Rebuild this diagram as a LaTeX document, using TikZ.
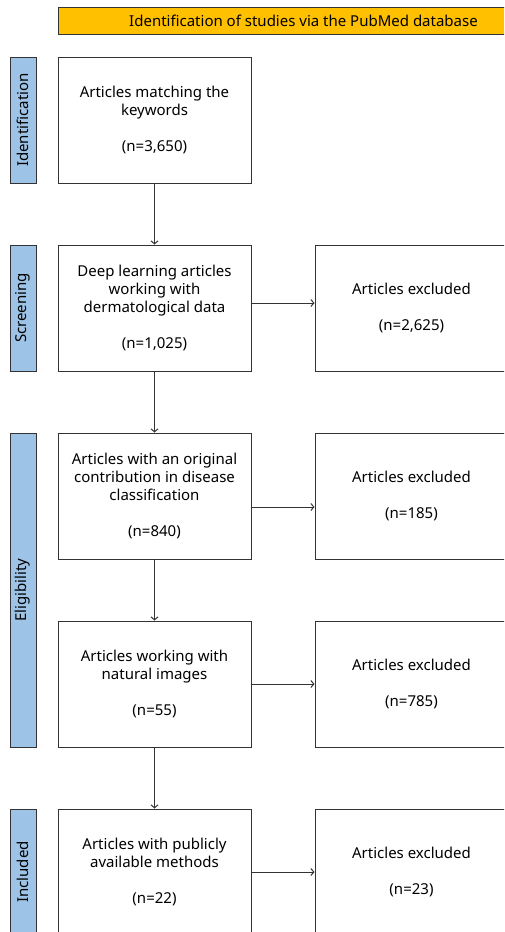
\documentclass[tikz,border=0pt]{standalone}
\usepackage{fontspec}
\setmainfont{Noto Sans}
\usetikzlibrary{arrows.meta}
\definecolor{bannerfill}{HTML}{FFC000}
\definecolor{phasefill}{HTML}{9DC3E6}
\definecolor{edgecol}{HTML}{333333}
\begin{document}
\begin{tikzpicture}[x=1pt,y=-1pt,
  txt/.style={font=\fontsize{15}{18.3}\selectfont},
  box/.style={txt, draw=edgecol, line width=1pt, minimum width=193pt, minimum height=126pt, align=center, inner sep=0pt},
  xbox/.style={box, minimum width=201pt},
  phase/.style={txt, draw=edgecol, line width=1pt, fill=phasefill, rotate=90, minimum height=26pt, inner sep=0pt},
  arr/.style={draw=edgecol, line width=1pt, -{Straight Barb[length=3pt,width=7pt]}}]
\useasboundingbox (0,0) rectangle (504,932);
\clip (0,0) rectangle (504,932);
\node[txt, draw=edgecol, line width=1pt, fill=bannerfill, minimum width=490pt, minimum height=27pt, inner sep=0pt] (banner) at (303.5,20.5) {Identification of studies via the PubMed database};
% phase bars
\node[phase, minimum width=126pt] (pid) at (23,120) {Identification};
\node[phase, minimum width=126pt] (psc) at (23,308) {Screening};
\node[phase, minimum width=314pt] (pel) at (23,590) {Eligibility};
\node[phase, minimum width=126pt] (pin) at (23,872) {Included};
% main boxes
\node[box] (b1) at (154.5,120) {Articles matching the\\keywords\\[18pt](n=3,650)};
\node[box] (b2) at (154.5,308) {Deep learning articles\\working with\\dermatological data\\[18pt](n=1,025)};
\node[box] (b3) at (154.5,496) {Articles with an original\\contribution in disease\\classification\\[18pt](n=840)};
\node[box] (b4) at (154.5,684) {Articles working with\\natural images\\[18pt](n=55)};
\node[box] (b5) at (154.5,872) {Articles with publicly\\available methods\\[18pt](n=22)};
% exclusion boxes
\node[xbox] (x2) at (415.5,308) {\hspace*{-8pt}Articles excluded\\[18pt]\hspace*{-8pt}(n=2,625)};
\node[xbox] (x3) at (415.5,496) {\hspace*{-8pt}Articles excluded\\[18pt]\hspace*{-8pt}(n=185)};
\node[xbox] (x4) at (415.5,684) {\hspace*{-8pt}Articles excluded\\[18pt]\hspace*{-8pt}(n=785)};
\node[xbox] (x5) at (415.5,872) {\hspace*{-8pt}Articles excluded\\[18pt]\hspace*{-8pt}(n=23)};
% arrows
\draw[arr] (b1) -- (b2);
\draw[arr] (b2) -- (b3);
\draw[arr] (b3) -- (b4);
\draw[arr] (b4) -- (b5);
\draw[arr] ([yshift=5pt]b2.east) -- ([yshift=5pt]x2.west);
\draw[arr] ([yshift=-11pt]b3.east) -- ([yshift=-11pt]x3.west);
\draw[arr] (b4) -- (x4);
\draw[arr] (b5) -- (x5);
\end{tikzpicture}
\end{document}
